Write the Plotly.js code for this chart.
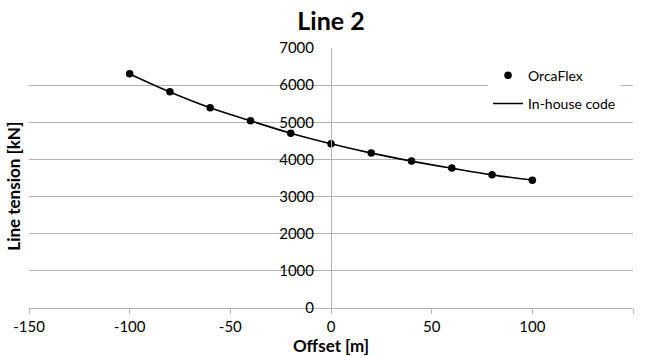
<!DOCTYPE html>
<html>
<head>
<meta charset="utf-8">
<script src="https://cdn.plot.ly/plotly-3.0.1.min.js"></script>
<style>
  html, body { margin: 0; padding: 0; background: #fff; }
  #chart { width: 646px; height: 356px; }
</style>
</head>
<body>
<div id="chart"></div>
<script>
// Vessel offset [m] and resulting tension in Line 2 [kN]
const offsets = [-100, -80, -60, -40, -20, 0, 20, 40, 60, 80, 100];
const orcaflexTension = [6305, 5820, 5388, 5040, 4703, 4423, 4172, 3956, 3767, 3587, 3442];
const inhouseTension = [6300, 5815, 5390, 5040, 4705, 4420, 4170, 3955, 3765, 3585, 3445];

const xTicks = [-150, -100, -50, 0, 50, 100, 150];
const yTicks = [0, 1000, 2000, 3000, 4000, 5000, 6000, 7000];

const FONT = 'Lato, "Open Sans", sans-serif';
const GRID = '#b4b4b4';

const traces = [
  {
    x: offsets,
    y: orcaflexTension,
    name: 'OrcaFlex',
    type: 'scatter',
    mode: 'markers',
    marker: { color: '#000', size: 7.5 },
    legendgroup: 'a'
  },
  {
    x: offsets,
    y: inhouseTension,
    name: 'In-house code',
    type: 'scatter',
    mode: 'lines',
    line: { color: '#000', width: 1.6, shape: 'spline', smoothing: 1 },
    legendgroup: 'b'
  }
];

const layout = {
  width: 646,
  height: 356,
  margin: { l: 29, r: 13, t: 48, b: 48 },
  paper_bgcolor: '#fff',
  plot_bgcolor: '#fff',
  font: { family: FONT, color: '#000', size: 14 },
  title: {
    text: 'Line 2',
    font: { family: FONT, size: 25, weight: 'bold', color: '#000' },
    xref: 'paper', x: 0.5, xanchor: 'center',
    y: 0.94, yanchor: 'middle'
  },
  xaxis: {
    range: [-150, 150],
    tickvals: xTicks,
    ticktext: xTicks.map(String),
    showgrid: false,
    zeroline: false,
    showline: true,
    linecolor: GRID,
    linewidth: 1,
    ticks: 'outside',
    ticklen: 5,
    tickcolor: GRID,
    tickfont: { family: FONT, size: 15, color: '#000' },
    title: {
      text: 'Offset [m]',
      font: { family: FONT, size: 17, weight: 'bold', color: '#000' },
      standoff: 1
    }
  },
  yaxis: {
    range: [0, 7000],
    tickvals: yTicks,
    ticktext: yTicks.map(String),
    anchor: 'free',
    position: 0.5,
    side: 'left',
    showgrid: true,
    gridcolor: GRID,
    gridwidth: 1,
    zeroline: false,
    showline: true,
    linecolor: GRID,
    linewidth: 1,
    ticks: '',
    ticklabelstandoff: 14,
    tickfont: { family: FONT, size: 15, color: '#000' }
  },
  showlegend: true,
  legend: {
    x: 0.76, xanchor: 'left',
    y: 0.955, yanchor: 'top',
    bgcolor: '#fff',
    borderwidth: 0,
    itemwidth: 30,
    traceorder: 'grouped',
    tracegroupgap: 7,
    font: { family: FONT, size: 14, color: '#000' }
  },
  annotations: [
    {
      text: 'Line tension [kN]',
      textangle: -90,
      xref: 'paper', yref: 'paper',
      x: -0.025, y: 0.47,
      xanchor: 'center', yanchor: 'middle',
      showarrow: false,
      font: { family: FONT, size: 17, weight: 'bold', color: '#000' }
    }
  ]
};

Plotly.newPlot('chart', traces, layout, { displayModeBar: false, staticPlot: true });
</script>
</body>
</html>
